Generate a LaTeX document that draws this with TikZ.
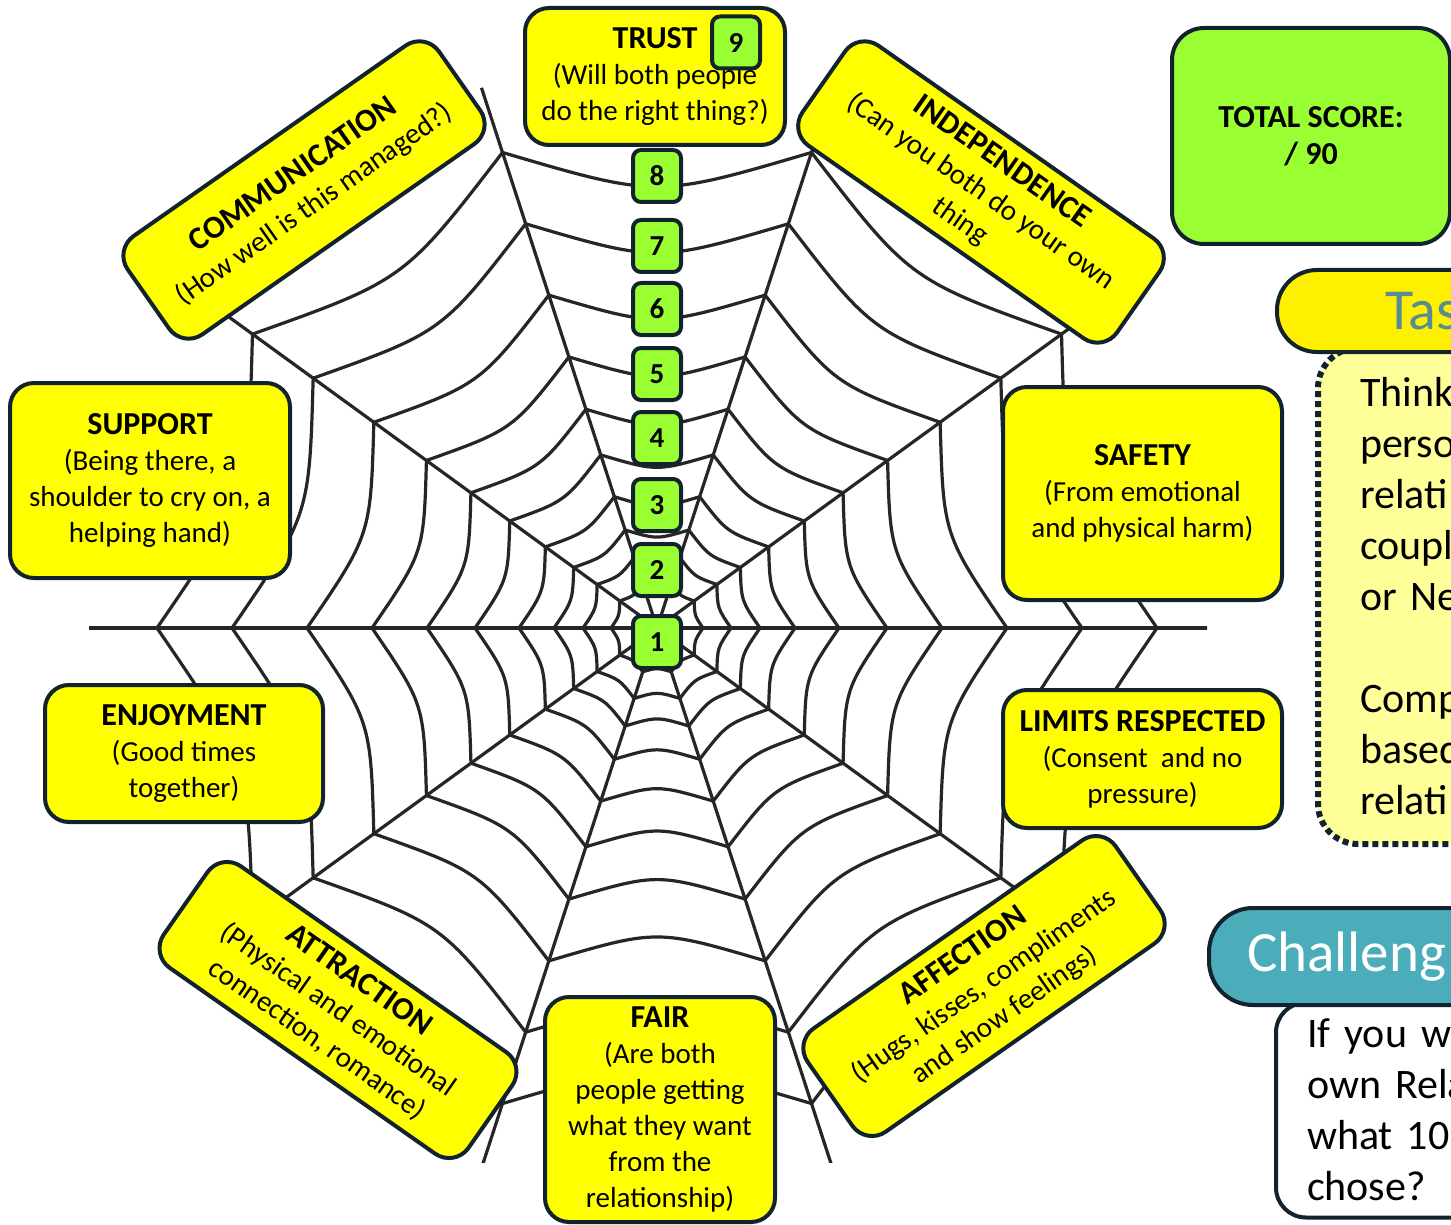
\documentclass[tikz,border=0pt]{standalone}
\usepackage{fontspec}
\setmainfont{Carlito}
\usepackage{tikz}
\usepackage{color}

\definecolor{navy}{RGB}{18,35,46}
\definecolor{cardyellow}{RGB}{255,255,0}
\definecolor{scoregreen}{RGB}{153,255,51}
\definecolor{taskyellow}{RGB}{255,240,0}
\definecolor{paleyellow}{RGB}{255,255,153}
\definecolor{tealhead}{RGB}{75,172,186}
\definecolor{tealtext}{RGB}{88,140,148}

\newcommand{\cardhead}[1]{{\fontsize{16}{18}\selectfont\bfseries #1}}

\tikzset{
  card/.style={draw=navy, line width=2pt, fill=cardyellow, rounded corners=12pt,
    align=center, inner sep=0pt, font=\fontsize{14.5}{18}\selectfont},
  scorebox/.style={draw=navy, line width=2pt, fill=scoregreen, rounded corners=4pt,
    minimum width=24pt, minimum height=26pt, inner sep=0pt,
    font=\fontsize{14.5}{17}\selectfont\bfseries},
  webline/.style={line width=1.6pt, black!85},
  panel/.style={anchor=west, align=left, font=\fontsize{21}{25.5}\selectfont},
}

\begin{document}
\begin{tikzpicture}[x=0.5pt,y=-0.5pt]
\useasboundingbox (0,0) rectangle (1451,1225);
\clip (0,0) rectangle (1451,1225);
%% web
\begin{scope}
\clip (87,60) rectangle (1207,1162);
\begin{scope}[shift={(657,628)}]
\foreach \a in {0,36,...,324}
  \draw [webline] (0,0) -- (\a:568);
\foreach \r in {46,74,103,138,182,230,285,350,425,500}
  \foreach \a in {0,36,...,324}
    \draw [webline] (\a:\r) .. controls (\a+18:{0.86*\r}) .. (\a+36:\r);
\end{scope}
\end{scope}
%% score column
\foreach \n/\y in {8/176,7/246,6/309,5/374,4/438,3/505,2/570,1/642}
  \node [scorebox] (s\n) at (657,\y) {\n};
%% cards round the web
\node [card, minimum width=130pt, minimum height=68.5pt] (trust) at (655,76.5)
  {\cardhead{TRUST}\\(Will both people\\do the right thing?)};
\node [scorebox] (s9) at (736,42.5) {9};
\node [card, rotate=35, minimum width=190pt, minimum height=60pt] (communication) at (304,190)
  {\cardhead{COMMUNICATION}\\(How well is this managed?)};
\node [card, rotate=-35, minimum width=192pt, minimum height=61pt] (independence) at (981,192)
  {\cardhead{INDEPENDENCE}\\(Can you both do your own\\thing};
\node [card, minimum width=140pt, minimum height=97.5pt] (support) at (150,480.5)
  {\cardhead{SUPPORT}\\(Being there, a\\shoulder to cry on, a\\helping hand)};
\node [card, minimum width=139.5pt, minimum height=106.5pt] (safety) at (1142.5,493.5)
  {\cardhead{SAFETY}\\(From emotional\\and physical harm)};
\node [card, minimum width=139pt, minimum height=68.5pt] (enjoyment) at (184,753.5)
  {\cardhead{ENJOYMENT}\\(Good times\\together)};
\node [card, minimum width=139.5pt, minimum height=69pt] (limits) at (1142.5,759)
  {\cardhead{LIMITS RESPECTED}\\(Consent~ and no\\pressure)};
\node [card, rotate=-35, minimum width=186pt, minimum height=62pt] (attraction) at (338,1010)
  {\cardhead{ATTRACTION}\\(Physical and emotional\\connection, romance)};
\node [card, rotate=35, minimum width=188pt, minimum height=63pt] (affection) at (984,986)
  {\cardhead{AFFECTION}\\(Hugs, kisses, compliments\\and show feelings)};
\node [card, minimum width=115pt, minimum height=112.5pt] (fair) at (660,1109.5)
  {\cardhead{FAIR}\\(Are both\\people getting\\what they want\\from the\\relationship)};
%% right hand panel
\node [card, fill=scoregreen, rounded corners=16pt, minimum width=139pt, minimum height=108pt,
  font=\fontsize{16}{18.5}\selectfont\bfseries] (total) at (1311,136) {TOTAL SCORE:\\/ 90};
\node [panel, draw=navy, line width=3pt, dash pattern=on 3pt off 2pt, fill=paleyellow,
  rounded corners=20pt, minimum height=248pt, text width=200pt, inner xsep=21pt] (taskbody) at (1315,596)
  {Think\\perso\\relati\\coupl\\or Ne\\[25.5pt]Comp\\based\\relati};
\node [panel, draw=navy, line width=2pt, fill=taskyellow, rounded corners=20pt, minimum height=41pt,
  text width=150pt, inner xsep=54pt, text=tealtext, font=\fontsize{29}{30}\selectfont] (taskhead) at (1275,311) {Tas};
\node [panel, draw=navy, line width=2pt, fill=white, rounded corners=15pt, minimum height=107.5pt,
  text width=150pt, inner xsep=15.5pt] (challbody) at (1274,1110)
  {If you we\\own Rela\\what 10\\chose?};
\node [panel, draw=navy, line width=2pt, fill=tealhead, rounded corners=22pt, minimum height=48.5pt,
  text width=200pt, inner xsep=19pt, text=white, font=\fontsize{28.5}{30}\selectfont] (challhead) at (1207,956.5) {Challeng};
\end{tikzpicture}
\end{document}
